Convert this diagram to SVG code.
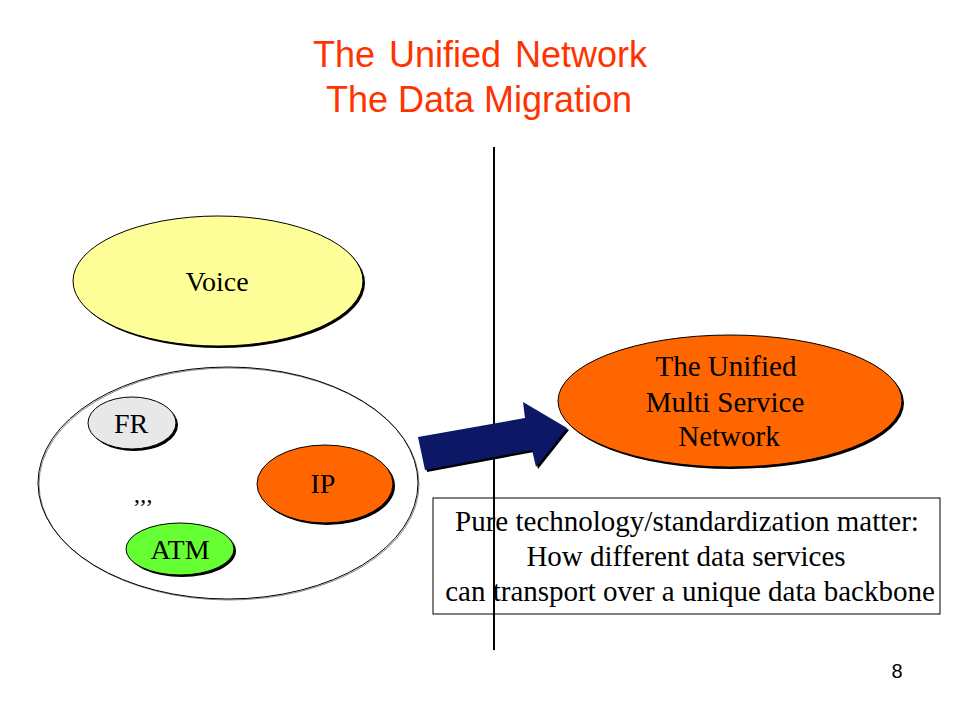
<svg xmlns="http://www.w3.org/2000/svg" width="960" height="720" viewBox="0 0 960 720">
<style>
.t{font-family:"Liberation Serif","Times New Roman",serif;font-size:29px;fill:#000;text-anchor:middle}
.h{font-family:"Liberation Sans",Arial,sans-serif;font-size:36px;fill:#FF3300;text-anchor:middle}
.sh{fill:#000}
.n{stroke:#000;stroke-width:1}
</style>
<rect width="960" height="720" fill="#fff"/>
<g id="title">
<text class="h" x="480" y="67" style="word-spacing:4px">The Unified Network</text>
<text class="h" x="479" y="112">The Data Migration</text>
</g>
<g id="divider"><line x1="494" y1="147" x2="494" y2="650" stroke="#000" stroke-width="2"/></g>
<g id="voice">
<ellipse class="sh" cx="220" cy="283" rx="145" ry="65"/>
<ellipse class="n" cx="218" cy="281" rx="145" ry="65" fill="#FFFF99"/>
<text class="t" x="217" y="291" style="font-size:28px">Voice</text>
</g>
<g id="data-group">
<ellipse cx="229" cy="484" rx="190" ry="116" fill="none" stroke="#888" stroke-width="1"/>
<ellipse cx="228" cy="483" rx="190" ry="116" fill="none" stroke="#000" stroke-width="1"/>
</g>
<g id="fr">
<ellipse class="sh" cx="134" cy="425" rx="44" ry="26"/>
<ellipse class="n" cx="132" cy="423" rx="44" ry="26" fill="#E8E8E8"/>
<text class="t" x="131" y="433" style="font-size:28px">FR</text>
</g>
<g id="ip">
<ellipse class="sh" cx="327" cy="486" rx="68" ry="39"/>
<ellipse class="n" cx="325" cy="484" rx="68" ry="39" fill="#FF6600"/>
<text class="t" x="323" y="493" style="font-size:28px">IP</text>
</g>
<g id="atm">
<ellipse class="sh" cx="182" cy="551" rx="54" ry="26"/>
<ellipse class="n" cx="180" cy="549" rx="54" ry="26" fill="#66FF33"/>
<text class="t" x="180" y="559" style="font-size:28px">ATM</text>
</g>
<g id="dots"><text class="t" x="143" y="515" style="font-size:24px">’’’</text></g>
<g id="connectors">
<polygon points="420,439 527,420 525,404 569,430 538,469 534,452 427,472" fill="#000"/>
<polygon points="418,437 525,418 523,402 567,428 536,467 532,450 425,470" fill="#0C1766"/>
</g>
<g id="unified">
<ellipse class="sh" cx="732" cy="403" rx="172" ry="66"/>
<ellipse class="n" cx="730" cy="401" rx="172" ry="66" fill="#FF6600"/>
<text class="t" x="726" y="376">The Unified</text>
<text class="t" x="725" y="412">Multi Service</text>
<text class="t" x="729" y="446">Network</text>
</g>
<g id="note">
<rect x="433" y="498" width="507" height="116" fill="none" stroke="#000" stroke-width="1"/>
<text class="t" x="687" y="531">Pure technology/standardization matter:</text>
<text class="t" x="686" y="566">How different data services</text>
<text class="t" x="690" y="601">can transport over a unique data backbone</text>
</g>
<g id="page"><text x="897" y="678" style="font-family:'Liberation Sans',Arial,sans-serif;font-size:20px;text-anchor:middle">8</text></g>
</svg>
